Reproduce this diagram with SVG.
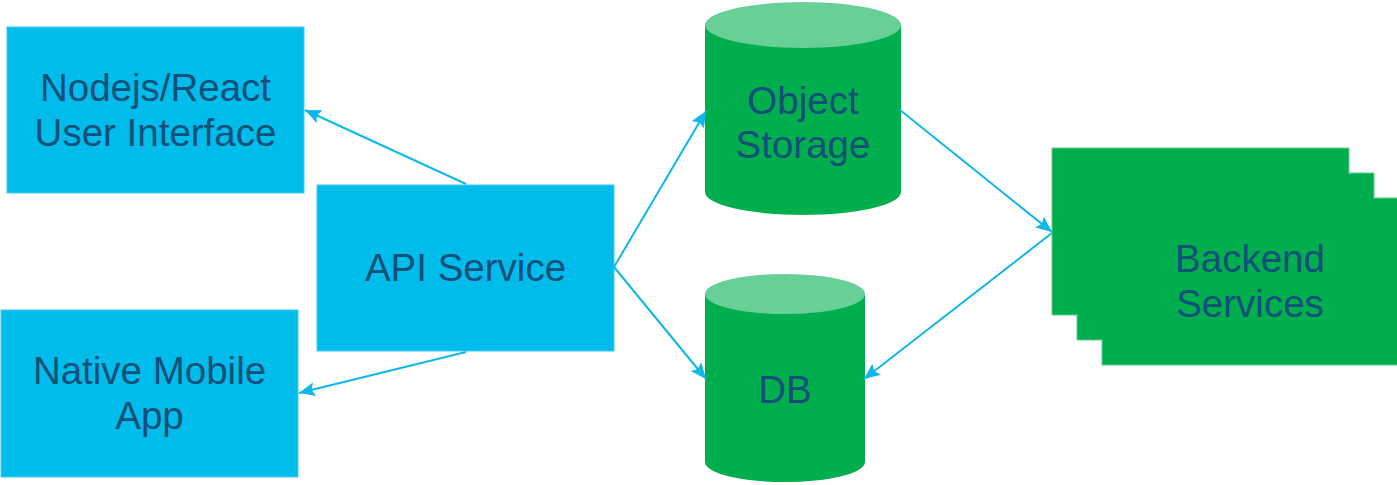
<svg xmlns="http://www.w3.org/2000/svg" width="1397" height="485" viewBox="0 0 1397 485">
<defs>
<style>
.box{fill:#00bceb;stroke:#3fcdf0;stroke-width:1}
.grn{fill:#00ae4e}
.gtop{fill:#68d097}
.bk{fill:#00ae4e;stroke:#5fd08f;stroke-width:1}
.lbl{font-family:"Liberation Sans",Arial,sans-serif;font-size:38.5px;fill:#124f79;text-anchor:middle}
.conn{stroke:#0fb7e9;stroke-width:2;fill:none;marker-end:url(#ah)}
</style>
<marker id="ah" markerUnits="userSpaceOnUse" markerWidth="17" markerHeight="14" refX="16" refY="7" orient="auto" viewBox="0 0 17 14">
<path d="M0,0 L16,7 L0,14 L3,7 Z" fill="#0fb7e9"/>
</marker>
</defs>
<rect width="1397" height="485" fill="#ffffff"/>
<g id="nodejs-ui">
<rect class="box" x="7" y="27" width="297" height="166"/>
<text class="lbl" x="155.5" y="101">Nodejs/React</text>
<text class="lbl" x="155.5" y="146">User Interface</text>
</g>
<g id="native-mobile">
<rect class="box" x="1" y="310" width="297" height="167"/>
<text class="lbl" x="149.5" y="384">Native Mobile</text>
<text class="lbl" x="149.5" y="429">App</text>
</g>
<g id="api-service">
<rect class="box" x="317" y="185" width="297" height="166"/>
<text class="lbl" x="465.5" y="281">API Service</text>
</g>
<g id="object-storage">
<path class="grn" d="M705,25 L705,192 A98,23 0 0 0 901,192 L901,25 Z"/>
<ellipse class="gtop" cx="803" cy="25" rx="98" ry="23"/>
<text class="lbl" x="803" y="114">Object</text>
<text class="lbl" x="803" y="158">Storage</text>
</g>
<g id="db">
<path class="grn" d="M705,294 L705,462 A80,20 0 0 0 865,462 L865,294 Z"/>
<ellipse class="gtop" cx="785" cy="294" rx="80" ry="20"/>
<text class="lbl" x="785" y="403">DB</text>
</g>
<g id="backend-services">
<rect class="bk" x="1102" y="198" width="297" height="167"/>
<rect class="bk" x="1077" y="173" width="297" height="167"/>
<rect class="bk" x="1052" y="148" width="297" height="167"/>
<rect class="grn" x="1053" y="149" width="295" height="165"/>
<rect class="grn" x="1078" y="174" width="295" height="165"/>
<rect class="grn" x="1103" y="199" width="295" height="165"/>
<text class="lbl" x="1250" y="272">Backend</text>
<text class="lbl" x="1250" y="317">Services</text>
</g>
<g id="connectors">
<line class="conn" x1="466" y1="184" x2="305" y2="110"/>
<line class="conn" x1="466" y1="352" x2="299" y2="393"/>
<line class="conn" x1="614" y1="267" x2="706" y2="111"/>
<line class="conn" x1="614" y1="267" x2="706" y2="379"/>
<line class="conn" x1="900" y1="110" x2="1052" y2="232"/>
<line class="conn" x1="1052" y1="233" x2="864" y2="379"/>
</g>
</svg>
